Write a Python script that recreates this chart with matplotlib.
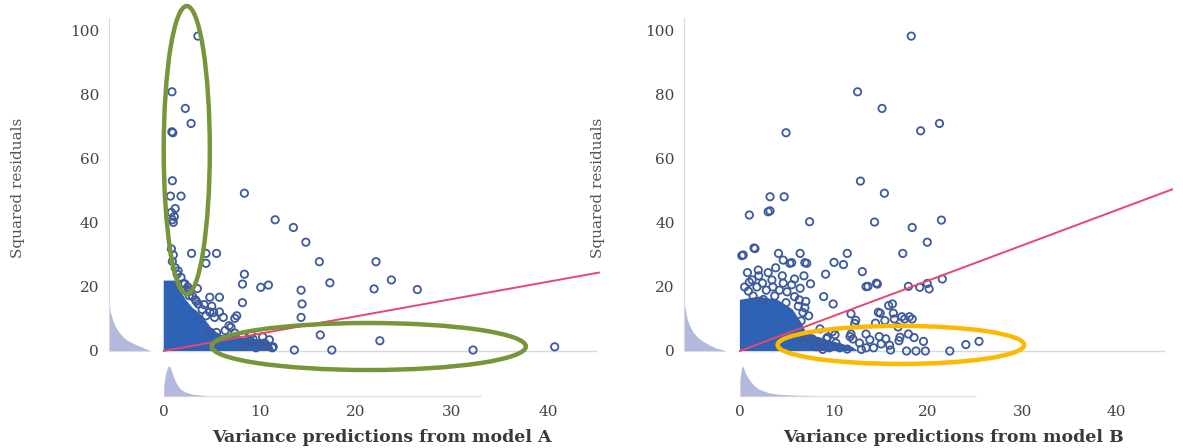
import matplotlib.pyplot as plt
from matplotlib.patches import Ellipse

# ---- left panel (model A) -------------------------------------------------
a_x = [3.56, 0.86, 2.25, 2.85, 0.85, 0.95, 0.9, 0.7, 1.8, 8.4, 11.6, 13.5, 14.8,
       16.2, 17.3, 22.1, 21.9, 23.7, 26.4, 2.9, 4.4, 5.5, 4.4, 8.4, 8.2, 10.1,
       10.9, 8.2, 14.3, 14.4, 14.3, 16.3, 22.5, 13.6, 17.5, 32.2, 40.7, 4.8, 5.8,
       5.0, 5.2, 7.4, 7.6, 6.8, 4.9, 5.5, 9.0, 10.0, 10.7, 11.4, 7.0, 6.4, 9.3,
       10.5, 11.3, 1.0, 0.8, 1.2, 1.1, 0.9, 0.8, 1.0, 0.9, 1.2, 1.5, 1.4, 1.8,
       2.0, 2.5, 2.7, 2.65, 3.3, 3.6, 4.0, 4.8, 5.8, 5.3, 4.4,
       2.2, 2.6, 3.0, 3.4, 4.2, 3.5, 6.2, 7.4, 8.2, 9.1, 10.3, 11.0, 9.6, 8.4]
a_y = [98.4, 81.0, 75.8, 71.1, 68.5, 68.2, 53.2, 48.4, 48.4, 49.3, 41.0, 38.6,
       34.0, 27.9, 21.3, 27.9, 19.4, 22.2, 19.2, 30.5, 30.5, 30.5, 27.4, 24.0,
       20.9, 19.9, 20.6, 15.1, 19.0, 14.7, 10.5, 5.0, 3.2, 0.3, 0.3, 0.3, 1.3,
       16.8, 16.8, 14.0, 12.0, 10.2, 11.0, 7.9, 5.8, 5.8, 3.2, 2.3, 1.8, 1.3, 7.4,
       6.4, 3.7, 2.5, 1.0, 40.2, 43.3, 44.5, 42.0, 41.0, 31.9, 30.0, 28.0, 26.0,
       25.0, 24.0, 23.0, 21.0, 20.0, 19.0, 17.3, 16.0, 14.7, 13.0, 12.2, 12.2,
       10.5, 11.0,
       21.0, 18.5, 17.0, 15.5, 14.5, 19.5, 10.5, 5.6, 4.8, 5.2, 4.4, 3.5, 1.0, 1.6]
# outline of the solid dense cloud
a_blob_x = [0, 0, 1.5, 1.7, 2.3, 3.0, 3.75, 4.5, 5.1, 6.0, 8.0, 10.0, 11.2, 11.5]
a_blob_y = [0, 22, 22, 19, 16, 13.5, 11.8, 9, 6.6, 5.0, 4.2, 3.6, 2.5, 0]
a_fit_end = [45.3, 24.5]
# marginal densities
a_my_lev = [0, 1, 2, 3, 4, 6, 8, 10, 12, 14]
a_my_w = [4.4, 3.6, 2.8, 2.1, 1.6, 1.0, 0.6, 0.35, 0.15, 0.05]
a_mx_lev = [0, 0.2, 0.4, 0.6, 0.8, 1.0, 1.3, 1.7, 2.2, 3.0, 4.5]
a_mx_h = [3, 7, 9, 9.4, 8, 6, 4, 2.2, 1.2, 0.5, 0]

# ---- right panel (model B) ------------------------------------------------
b_x = [18.2, 12.5, 15.1, 4.9, 19.2, 21.2, 12.8, 15.35, 3.2, 4.7, 3.2, 3.0, 1.0,
       7.4, 14.3, 18.3, 21.4, 19.9, 17.3, 11.4, 10.0, 11.0, 13.0, 9.1, 13.6,
       14.6, 17.9, 19.1, 20.1, 19.9, 21.5, 8.9, 9.9, 11.8, 12.2, 14.7, 15.8,
       16.2, 15.4, 16.4, 17.5, 18.3, 17.0, 17.9, 7.7, 9.3, 10.1, 12.0, 13.4,
       13.4, 14.2, 15.0, 16.0, 9.5, 10.6, 11.4, 8.3, 6.7, 8.5, 11.8, 17.7, 18.7,
       19.7, 22.3, 24.0, 25.4, 13.4, 14.5, 16.3, 17.2, 18.0, 14.9,
       0.9, 1.95, 4.1, 4.6, 5.3, 6.4, 7.1, 1.3, 2.4, 3.4, 4.6, 5.5, 6.4, 1.4,
       2.5, 3.7, 4.9, 6.2, 6.7, 6.5, 0.35, 1.6, 0.2, 1.5, 5.5, 6.9,
       0.5, 1.0, 2.0, 3.0, 3.5, 4.2, 5.0, 5.8, 6.3, 7.0, 6.9, 7.3, 5.8, 2.8,
       1.8, 4.5, 0.8, 3.8, 6.8, 7.5,
       7.1, 8.1, 9.2, 10.2, 11.7, 12.7, 13.8, 14.8, 15.9, 16.9, 8.8, 12.9, 15.5,
       18.5, 19.5, 9.8, 12.3, 14.4, 16.8]
b_y = [98.4, 81.0, 75.8, 68.2, 68.8, 71.1, 53.1, 49.3, 48.2, 48.2, 43.8, 43.5,
       42.5, 40.4, 40.3, 38.6, 40.9, 34.0, 30.5, 30.5, 27.7, 27.0, 24.8, 24.0,
       20.2, 20.9, 20.2, 19.9, 19.4, 21.1, 22.5, 17.0, 14.7, 11.6, 8.6, 12.1,
       14.2, 14.7, 9.5, 10.0, 10.0, 10.0, 4.3, 5.3, 3.75, 4.3, 5.1, 3.75, 5.3,
       1.0, 1.0, 2.2, 0.3, 1.0, 1.0, 0.6, 3.0, 2.7, 6.9, 5.3, 0.0, 0.0, 0.0,
       0.0, 2.0, 3.0, 20.1, 21.2, 11.8, 10.7, 10.7, 11.8,
       18.7, 25.3, 30.5, 28.4, 27.4, 30.5, 27.4, 22.2, 21.2, 22.2, 21.2, 20.7,
       19.6, 17.2, 16.1, 17.2, 15.1, 14.0, 12.0, 9.4, 30.0, 32.0, 29.8, 32.2,
       27.6, 27.6,
       20.0, 21.5, 23.5, 24.5, 20.0, 19.0, 18.5, 17.0, 16.0, 15.5, 13.5, 11.0,
       22.5, 19.0, 20.0, 23.5, 24.5, 26.0, 23.5, 21.0,
       4.5, 1.3, 3.8, 2.5, 4.5, 2.5, 3.5, 4.5, 1.8, 3.2, 0.5, 0.5, 3.8, 4.2,
       3.0, 6.0, 9.6, 8.7, 7.5]
b_blob_x = [0, 0, 2.0, 4.0, 5.6, 6.5, 7.0, 8.5, 10.5, 12.0, 12.5]
b_blob_y = [0, 16, 17, 16, 13, 9, 6, 4, 2.5, 1.2, 0]
b_fit_end = [46.0, 50.6]
b_my_lev = [0, 1, 2, 3, 4, 6, 8, 10, 12, 14]
b_my_w = [4.5, 3.3, 2.6, 2.0, 1.5, 0.9, 0.55, 0.3, 0.15, 0.05]
b_mx_lev = [0, 0.15, 0.3, 0.6, 1.0, 1.5, 2.0, 3.0, 4.0, 6.0, 8.0]
b_mx_h = [5, 8.5, 9.4, 7, 5, 3.2, 2.1, 1.0, 0.5, 0.2, 0]

x_ticks = [0, 10, 20, 30, 40]
y_ticks = [0, 20, 40, 60, 80, 100]

SERIF = "DejaVu Serif"
POINT_EDGE = "#3c5a9c"
BLOB = "#2d62b5"
MARGIN = "#9aa0d2"
MX_BASE = -14


def draw_panel(ax, xs, ys, blob_x, blob_y, fit_end, my_lev, my_w, mx_lev, mx_h,
               x_left, base_len, xlabel):
    ax.set_xlim(x_left, 46)
    ax.set_ylim(-15, 104)

    # zero line and bottom-marginal baseline
    ax.plot([0, 45], [0, 0], color="#d8d8d8", lw=1, zorder=1)
    ax.plot([0, base_len], [MX_BASE, MX_BASE], color="#e2e2e2", lw=1, zorder=1)

    # marginal densities
    ax.fill_betweenx(my_lev, x_left, [x_left + w for w in my_w],
                     color=MARGIN, alpha=0.75, lw=0, zorder=1)
    ax.fill_between(mx_lev, MX_BASE, [MX_BASE + h for h in mx_h],
                    color=MARGIN, alpha=0.75, lw=0, zorder=1)

    ax.fill(blob_x, blob_y, color=BLOB, lw=0, zorder=2)
    ax.scatter(xs, ys, s=28, facecolors="none", edgecolors=POINT_EDGE,
               linewidths=1.3, zorder=3)
    ax.plot([0, fit_end[0]], [0, fit_end[1]], color="#e8476e", lw=1.4, zorder=4)

    for s in ["top", "right", "bottom"]:
        ax.spines[s].set_visible(False)
    ax.spines["left"].set_color("#d9d9d9")
    ax.spines["left"].set_bounds(0, 104)

    ax.set_xticks(x_ticks)
    ax.set_yticks(y_ticks)
    ax.tick_params(length=0, labelsize=11, labelcolor="#444444")
    ax.tick_params(axis="x", pad=4)
    ax.tick_params(axis="y", pad=7)
    for lab in ax.get_xticklabels() + ax.get_yticklabels():
        lab.set_family(SERIF)

    ax.text(0.55, -0.102, xlabel, transform=ax.transAxes, ha="center",
            va="center", fontsize=12.5, fontweight="bold", color="#3a3a3a",
            family=SERIF)


fig = plt.figure(figsize=(11.83, 4.48), dpi=100)
ax_a = fig.add_axes([0.0921, 0.1094, 0.4198, 0.85])
ax_b = fig.add_axes([0.5785, 0.1094, 0.4130, 0.85])

draw_panel(ax_a, a_x, a_y, a_blob_x, a_blob_y, a_fit_end, a_my_lev, a_my_w,
           a_mx_lev, a_mx_h, -5.7, 33, "Variance predictions from model A")
draw_panel(ax_b, b_x, b_y, b_blob_x, b_blob_y, b_fit_end, b_my_lev, b_my_w,
           b_mx_lev, b_mx_h, -5.9, 25, "Variance predictions from model B")

for xpos in [0.0152, 0.5055]:
    fig.text(xpos, 0.58, "Squared residuals", rotation=90, ha="center",
             va="center", fontsize=11, color="#555555", family=SERIF)

# highlight ellipses
green = "#77963a"
ax_a.add_patch(Ellipse((2.4, 62.8), 4.8, 90, fill=False, ec=green, lw=3.2,
                       clip_on=False, zorder=5))
ax_a.add_patch(Ellipse((21.35, 1.4), 32.7, 14.7, fill=False, ec=green, lw=3.2,
                       clip_on=False, zorder=5))
ax_b.add_patch(Ellipse((17.1, 1.9), 26.2, 11.9, fill=False, ec="#fbb900",
                       lw=3.2, clip_on=False, zorder=5))

fig.savefig("out.png", dpi=100)
plt.close(fig)
